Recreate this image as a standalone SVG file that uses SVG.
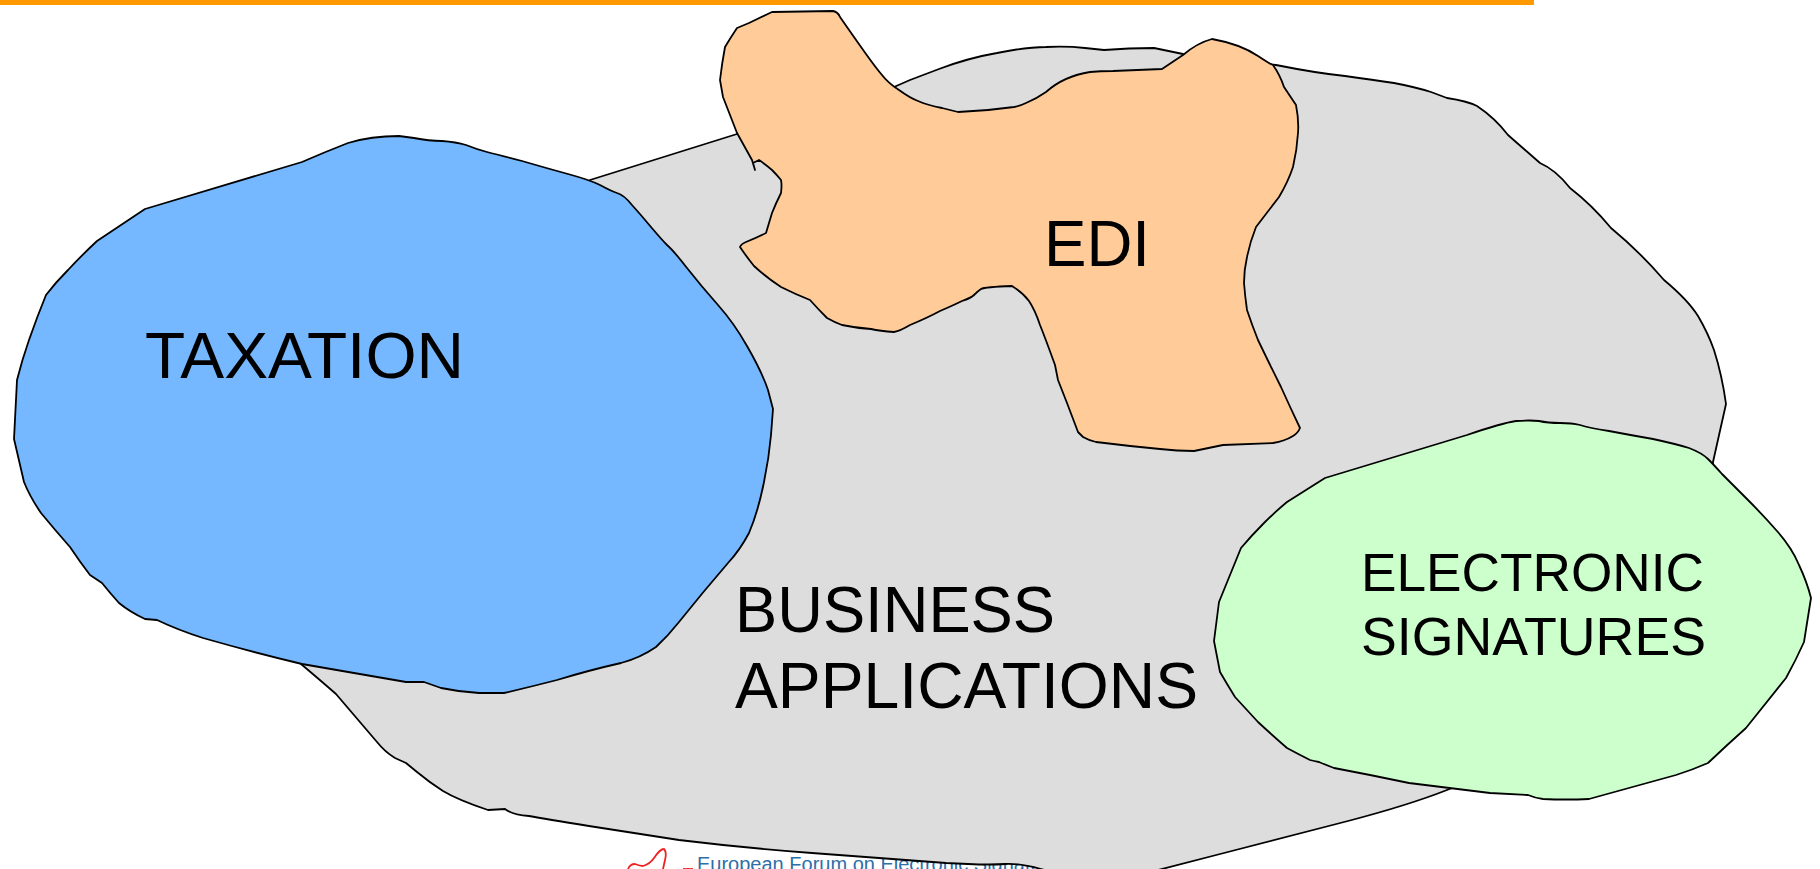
<svg xmlns="http://www.w3.org/2000/svg" width="1820" height="869" viewBox="0 0 1820 869">
<style>
.shape{stroke:#000;stroke-width:1.8;stroke-linejoin:round}
.big{font-family:"Liberation Sans",Arial,sans-serif;font-size:65px;fill:#000}
.mid{font-family:"Liberation Sans",Arial,sans-serif;font-size:54px;fill:#000}
</style>
<rect width="1820" height="869" fill="#fff"/>
<rect id="top-bar" x="0" y="0" width="1534" height="5" fill="#ff9900"/>
<g id="logo">
<path d="M628,869 Q630,864 635,864 Q640,866 643,866 Q650,864 654,858 Q660,849 664,849 Q667,852 665,860 L663,869" fill="none" stroke="#ee2222" stroke-width="1.8"/>
<path d="M683,869 L693,869" fill="none" stroke="#ee2222" stroke-width="1.8"/>
<text x="697" y="870.5" font-family="'Liberation Sans',Arial,sans-serif" font-size="20" fill="#2e6fa8">European Forum on Electronic Signatures</text>
</g>
<g id="business-applications">
<path class="shape" fill="#dddddd" d="M590,180 L737,134 L894,87 L910,80 L939,69 Q968,58 997,53 Q1026,47 1046,47 Q1067,46 1085,48 L1104,50 Q1129,48 1154,48 L1183,54 L1276,65 Q1316,73 1345,76 Q1374,80 1394,83 Q1415,87 1431,92 L1447,98 Q1467,101 1477,106 Q1495,118 1508,135 Q1525,150 1540,163 Q1556,170 1570,188 Q1592,205 1611,228 Q1640,252 1664,280 Q1688,300 1698,316 Q1708,333 1714,350 Q1722,375 1726,404 L1713,462 L1713,470 L1500,770 L1447,790 Q1409,805 1348,821 Q1287,837 1224,853 L1100,885 L1041,869 Q1018,863 1005,864 Q991,865 968,864 L946,863 Q880,858 812,853 Q745,848 679,840 L589,826 Q545,819 529,816 Q513,815 505,809 L488,810 Q458,800 443,791 Q429,782 417,772 L406,763 L395,758 Q385,752 377,742 Q348,708 336,694 Q320,680 301,664 Z"/>
<text class="big" x="735" y="632" textLength="320" lengthAdjust="spacingAndGlyphs">BUSINESS</text>
<text class="big" x="735" y="708" textLength="463" lengthAdjust="spacingAndGlyphs">APPLICATIONS</text>
</g>
<g id="taxation">
<path class="shape" fill="#75b8ff" d="M414,138 Q429,141 442,141 Q456,142 466,145 Q476,149 487,152 Q499,155 522,161 Q546,168 568,174 Q590,180 600,185 Q611,191 617,193 Q624,195 632,205 Q641,215 651,227 Q662,240 667,245 Q673,250 687,268 Q702,287 718,305 Q734,323 747,346 Q762,372 768,390 L773,409 L771,435 Q769,458 764,482 Q758,512 749,533 Q740,550 728,563 Q703,592 679,622 Q668,636 656,647 Q640,658 621,663 Q590,670 557,680 Q530,687 504,693 L479,693 Q460,692 441,688 L424,682 L406,682 Q354,673 302,664 Q252,652 203,638 Q178,630 157,620 L145,619 Q130,612 119,603 Q110,593 102,583 L90,575 Q80,562 70,547 Q55,530 41,513 Q30,497 24,482 L14,439 L17,380 Q22,360 29,340 Q37,317 46,295 Q56,282 68,270 Q82,255 97,241 L145,209 L302,162 Q325,152 348,143 Q371,136 399,136 Z"/>
<text class="big" x="145" y="378" textLength="319" lengthAdjust="spacingAndGlyphs">TAXATION</text>
</g>
<g id="edi">
<path class="shape" fill="#ffcc99" d="M772,12 L833,11 Q838,12 840,17 Q856,40 866,54 Q876,68 882,75 Q888,83 899,90 Q910,98 918,101 Q927,105 942,108 L958,112 Q986,111 1014,107 Q1020,106 1026,103 Q1036,99 1046,92 Q1064,76 1090,72 Q1100,71 1113,71 L1162,69 L1183,55 Q1197,43 1212,39 Q1240,44 1258,56 Q1270,64 1273,65 Q1280,75 1284,87 L1296,105 Q1299,120 1298,133 Q1297,150 1293,167 Q1288,182 1279,197 L1256,227 Q1250,242 1247,257 Q1244,270 1244,283 Q1245,296 1247,310 Q1252,325 1258,340 Q1269,363 1281,387 Q1290,407 1300,428 Q1298,433 1293,436 Q1285,441 1273,443 L1223,445 L1194,451 Q1177,451 1160,449 Q1128,446 1096,442 Q1088,440 1083,437 L1078,432 L1067,403 L1058,380 L1055,365 Q1046,340 1040,325 Q1035,310 1029,301 Q1023,293 1012,286 Q985,287 981,289 Q978,291 974,295 Q971,298 962,301 Q954,305 940,311 Q927,318 910,325 Q900,331 894,332 Q880,331 871,329 Q856,328 842,325 Q834,322 827,318 Q818,309 810,300 Q795,294 781,287 Q767,278 754,266 Q746,256 740,247 Q741,244 746,242 Q756,238 766,233 Q769,223 772,213 Q776,203 781,193 Q782,185 781,180 Q777,175 772,170 Q765,164 759,160 L753,163 L755,170 L752,160 L737,133 L723,97 L720,80 Q722,63 725,47 Q731,37 737,28 L749,23 Z"/>
<text class="big" x="1044" y="266" textLength="106" lengthAdjust="spacingAndGlyphs">EDI</text>
</g>
<g id="electronic-signatures">
<path class="shape" fill="#ccffcc" d="M1325,478 L1467,435 Q1502,423 1516,421 Q1531,420 1539,421 Q1548,423 1560,423 Q1572,423 1580,425 Q1589,428 1609,431 Q1630,435 1653,439 Q1676,444 1689,448 Q1702,453 1708,459 Q1714,465 1722,474 Q1731,483 1747,499 Q1763,515 1777,531 Q1792,548 1799,565 Q1807,582 1811,598 L1804,642 Q1796,660 1786,678 Q1766,703 1746,728 Q1727,745 1708,763 Q1692,770 1676,775 Q1632,787 1589,799 Q1566,800 1543,799 Q1535,798 1528,795 Q1509,794 1490,793 Q1449,788 1409,783 Q1371,775 1334,768 Q1326,765 1319,762 Q1314,761 1310,760 Q1298,754 1287,748 Q1272,735 1258,722 Q1246,709 1235,697 Q1227,684 1220,672 L1214,641 L1219,602 Q1230,575 1241,548 Q1252,535 1264,523 Q1275,512 1287,502 Z"/>
<text class="mid" x="1361" y="591" textLength="343" lengthAdjust="spacingAndGlyphs">ELECTRONIC</text>
<text class="mid" x="1361" y="655" textLength="345" lengthAdjust="spacingAndGlyphs">SIGNATURES</text>
</g>
<g id="connectors"/>
</svg>
